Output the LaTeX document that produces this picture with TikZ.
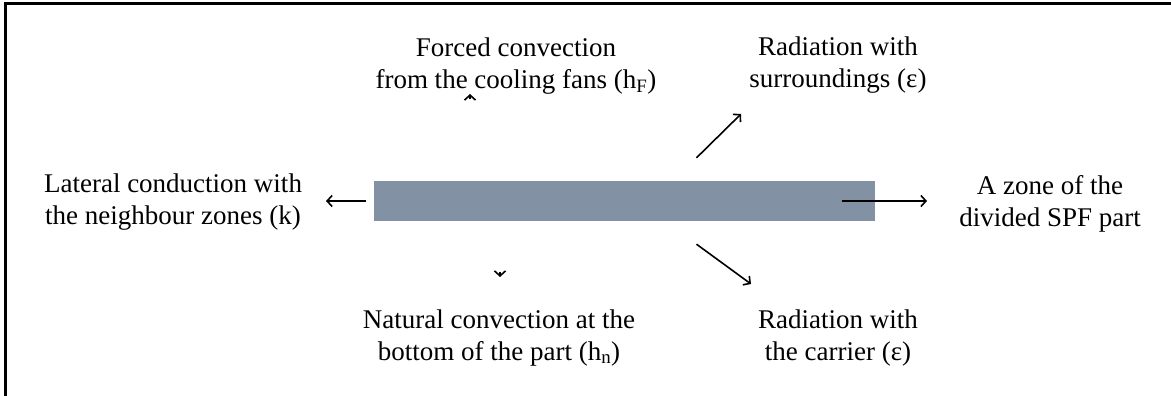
\documentclass[tikz,border=0pt]{standalone}
\usepackage{fontspec}
\setmainfont{Liberation Serif}
\usetikzlibrary{positioning,arrows.meta}
\definecolor{zonegrey}{HTML}{8391A4}
\tikzset{
    flux/.style={-{Straight Barb[length=5pt,width=11pt,line width=1.6pt]},line width=1.6pt},
    note/.style={align=center,inner sep=0pt,font=\fontsize{27}{31.5}\selectfont}
}
\begin{document}
\begin{tikzpicture}[x=1pt,y=-1pt]
        \useasboundingbox (0,0) rectangle (1171,396);
        % Frame
        \draw[line width=3pt] (5,396) -- (5,4) -- (1171,4);
        % SPF zone
        \node[fill=zonegrey,minimum width=501pt,minimum height=40pt,inner sep=0pt] (zone) at (624.5,201) {};
        % Labels
        \node[note] (lateral) at (173,202) {Lateral conduction with\\the neighbour zones (k)};
        \node[note] (part) at (1050,204) {A zone of the\\divided SPF part};
        \node[note] (forced) at (516,66) {Forced convection\\from the cooling fans (h\textsubscript{F})};
        \node[note] (surround) at (838,65) {Radiation with\\surroundings (ε)};
        \node[note] (natural) at (499,338) {Natural convection at the\\bottom of the part (h\textsubscript{n})};
        \node[note] (carrier) at (838,338) {Radiation with\\the carrier (ε)};
        % Free ends
        \coordinate (latTip) at (326,201);
        \coordinate (partTip) at (927,201);
        \coordinate (surTip) at (741,114);
        \coordinate (carTip) at (751,284);
        % Heat exchanges
        \draw[flux] ([xshift=-8pt]zone.west) -- (latTip);
        \draw[flux] ([xshift=-33pt]zone.east) -- (partTip);
        \draw[flux] ([xshift=72pt,yshift=23pt]zone.north) -- (surTip);
        \draw[flux] ([xshift=72pt,yshift=-23pt]zone.south) -- (carTip);
        \draw[flux] (470,99.5) -- (470,94);
        \draw[flux] (500,271.5) -- (500,277);
\end{tikzpicture}
\end{document}
